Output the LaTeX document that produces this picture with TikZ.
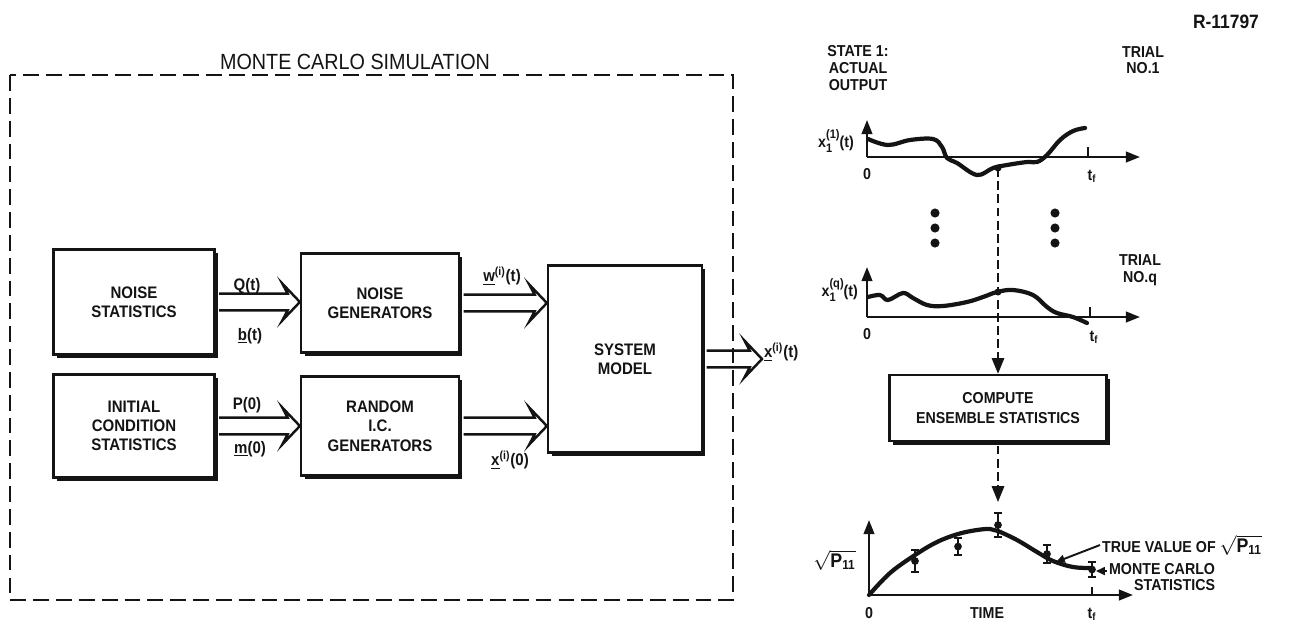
\documentclass[tikz,border=0pt]{standalone}
\usepackage{fontspec}
\setmainfont{Liberation Sans}[FakeStretch=0.9]
\usepackage{tikz}
\usetikzlibrary{arrows.meta,shadows,calc}
\definecolor{mcInk}{HTML}{141414}
\tikzset{
  blockbox/.style={draw=mcInk, line width=1.3pt, fill=white, align=center,
    font=\fontsize{9.5}{11}\selectfont\bfseries, text=mcInk, inner sep=2pt,
    drop shadow={shadow xshift=0.07cm, shadow yshift=-0.07cm, fill=mcInk, opacity=1}},
  flowarrow/.style={draw=mcInk, line width=1.4pt, line join=miter,
    to path={let \p1=(\tikztostart), \p2=(\tikztotarget) in
      (\x1,\y1+4.8pt) -- (\x2-7pt,\y1+4.8pt) -- (\x2-10pt,\y1+10.5pt) -- (\x2,\y1)
      -- (\x2-10pt,\y1-10.5pt) -- (\x2-7pt,\y1-4.8pt) -- (\x1,\y1-4.8pt)}},
  siglabel/.style={font=\fontsize{9.5}{11}\selectfont\bfseries, text=mcInk, inner sep=1pt},
  plotlabel/.style={font=\fontsize{9}{9.5}\selectfont\bfseries, text=mcInk, align=center, inner sep=1pt},
  plotaxis/.style={draw=mcInk, line width=1.3pt, -{Triangle[length=8pt, width=6pt]}},
  trace/.style={draw=mcInk, line width=2.4pt, line cap=round, line join=round},
  probe/.style={draw=mcInk, line width=1.2pt, dash pattern=on 5pt off 2.5pt,
    -{Triangle[length=9pt, width=7pt]}},
  pointer/.style={draw=mcInk, line width=1.1pt, -{Triangle[length=5pt, width=4.5pt]}},
}
\newcommand{\trialvar}[1]{x\rlap{\raisebox{-3pt}{\scriptsize 1}}\raisebox{5pt}{\scriptsize(#1)}(t)}
\newcommand{\rootp}{\scalebox{1.25}{$\sqrt{\mbox{P\textsubscript{11}}}$}}

\begin{document}
\begin{tikzpicture}[x=0.02cm, y=-0.02cm]
  \useasboundingbox (0,0) rectangle (1298,620);
  \node[font=\fontsize{12.5}{14}\selectfont, text=mcInk] (simtitle) at (355,62) {MONTE CARLO SIMULATION};
  \node[font=\fontsize{11}{12}\selectfont\bfseries, text=mcInk] (repno) at (1226,22) {R-11797};

  % simulation blocks
  \node[blockbox, minimum width=3.22cm, minimum height=2.1cm] (nstat) at (134,302) {NOISE\\STATISTICS};
  \node[blockbox, minimum width=3.16cm, minimum height=1.98cm] (ngen) at (380,303) {NOISE\\GENERATORS};
  \node[blockbox, minimum width=3.22cm, minimum height=2.06cm] (icstat) at (134,426) {INITIAL\\CONDITION\\STATISTICS};
  \node[blockbox, minimum width=3.16cm, minimum height=1.98cm] (icgen) at (380,426) {RANDOM\\I.C.\\GENERATORS};
  \node[blockbox, minimum width=3.08cm, minimum height=3.74cm] (sysmod) at (625,359) {SYSTEM\\MODEL};
  \node[blockbox, font=\fontsize{9}{11}\selectfont\bfseries, minimum width=4.34cm, minimum height=1.32cm] (compute) at (998,408) {COMPUTE\\ENSEMBLE STATISTICS};

  \node[siglabel] (qlab) at (247,286) {Q(t)};
  \node[siglabel] (blab) at (250,336) {\underline{b}(t)};
  \node[siglabel] (plab) at (247,405) {P(0)};
  \node[siglabel] (mlab) at (250,449) {\underline{m}(0)};
  \node[siglabel] (wlab) at (502,276) {\underline{w}\textsuperscript{(i)}(t)};
  \node[siglabel] (x0lab) at (510,460) {\underline{x}\textsuperscript{(i)}(0)};
  \node[siglabel, anchor=west] (xout) at (762,352) {\underline{x}\textsuperscript{(i)}(t)};

  \draw[flowarrow] ([xshift=0.07cm]nstat.east) to (ngen.west);
  \draw[flowarrow] ([xshift=0.07cm]icstat.east) to (icgen.west);
  \draw[flowarrow] ([xshift=0.07cm]ngen.east) to (ngen.east -| sysmod.west);
  \draw[flowarrow] ([xshift=0.07cm]icgen.east) to (icgen.east -| sysmod.west);
  \draw[flowarrow] ([xshift=0.07cm]sysmod.east) to (sysmod.east -| xout.west);

  \draw[mcInk, line width=1.2pt, dash pattern=on 9pt off 4pt] (10,75) rectangle (733,600);

  % trial plots
  \node[plotlabel] (statelab) at (858,68) {STATE 1:\\ACTUAL\\OUTPUT};
  \node[plotlabel] (trial1) at (1143,60) {TRIAL\\NO.1};
  \node[plotlabel] (trialq) at (1140,270) {TRIAL\\NO.q};

  \draw[plotaxis] (867,157) -- (867,120);
  \draw[plotaxis] (867,157) -- (1140,157);
  \draw[mcInk, line width=1.2pt] (1088,157) -- (1088,147);
  \node[plotlabel] (zero1) at (867,174) {0};
  \node[plotlabel] (tf1) at (1092,176) {t\textsubscript{f}};
  \node[plotlabel, anchor=east] (x1lab) at (856,141) {\trialvar{1}};
  \draw[trace] plot[smooth, tension=0.6] coordinates {(868,139) (888,145) (910,140) (933,139) (942,147)
    (947,158) (957,163) (977,175) (993,168) (1007,165) (1027,162) (1037,162) (1047,155) (1060,140) (1073,131) (1085,128)};

  \foreach \dy in {213,228,243} {
    \fill[mcInk] (935,\dy) circle (2.6pt);
    \fill[mcInk] (1055,\dy) circle (2.6pt);
  }

  \draw[plotaxis] (867,317) -- (867,267);
  \draw[plotaxis] (867,317) -- (1140,317);
  \draw[mcInk, line width=1.2pt] (1090,317) -- (1090,307);
  \node[plotlabel] (zero2) at (867,334) {0};
  \node[plotlabel] (tf2) at (1094,337) {t\textsubscript{f}};
  \node[plotlabel, anchor=east] (xqlab) at (860,290) {\trialvar{q}};
  \draw[trace] plot[smooth, tension=0.6] coordinates {(868,297) (880,295) (888,300) (903,293) (913,298)
    (927,305) (943,306) (967,302) (983,297) (997,292) (1013,290) (1033,295) (1047,307) (1057,313) (1073,317) (1087,323)};

  \coordinate (probetop) at (998,168);
  \fill[mcInk] (probetop) circle (2pt);
  \fill[mcInk] (998,292) circle (2pt);
  \draw[probe] (probetop) -- (probetop |- compute.north);

  % ensemble statistics plot
  \coordinate (peakmark) at (998,502);
  \draw[probe] ([yshift=-0.07cm]compute.south) -- (peakmark);

  \draw[plotaxis] (869,595) -- (869,520);
  \draw[plotaxis] (869,595) -- (1133,595);
  \draw[mcInk, line width=1.2pt] (1092,595) -- (1092,587);
  \node[plotlabel] (zero3) at (869,613) {0};
  \node[plotlabel] (timelab) at (987,613) {TIME};
  \node[plotlabel] (tf3) at (1092,614) {t\textsubscript{f}};
  \node[plotlabel, anchor=east] (rootlab) at (858,560) {\rootp};
  \draw[trace] plot[smooth, tension=0.6] coordinates {(869,595) (890,573) (915,555) (937,542) (958,534)
    (977,530) (990,529) (998,531) (1017,540) (1037,552) (1053,561) (1073,567) (1092,568)};
  \foreach \ex/\et/\eb in {915/550/572, 958/538/555, 998/513/537, 1047/545/563, 1092/562/577} {
    \draw[mcInk, line width=1.2pt] (\ex,\et) -- (\ex,\eb)
      (\ex-4,\et) -- (\ex+4,\et) (\ex-4,\eb) -- (\ex+4,\eb);
    \fill[mcInk] (\ex,{(\et+\eb)/2}) circle (2.2pt);
  }

  \node[plotlabel, anchor=west] (truelab) at (1100,545) {TRUE VALUE OF \rootp};
  \coordinate (truetip) at (1056,562);
  \draw[pointer] (truelab.west) -- (truetip);
  \node[plotlabel, anchor=north west, align=right] (mclab) at (1107,561) {MONTE CARLO\\STATISTICS};
  \coordinate (mctip) at (1096,571);
  \draw[pointer] (mclab.west |- mctip) -- (mctip);
\end{tikzpicture}
\end{document}
